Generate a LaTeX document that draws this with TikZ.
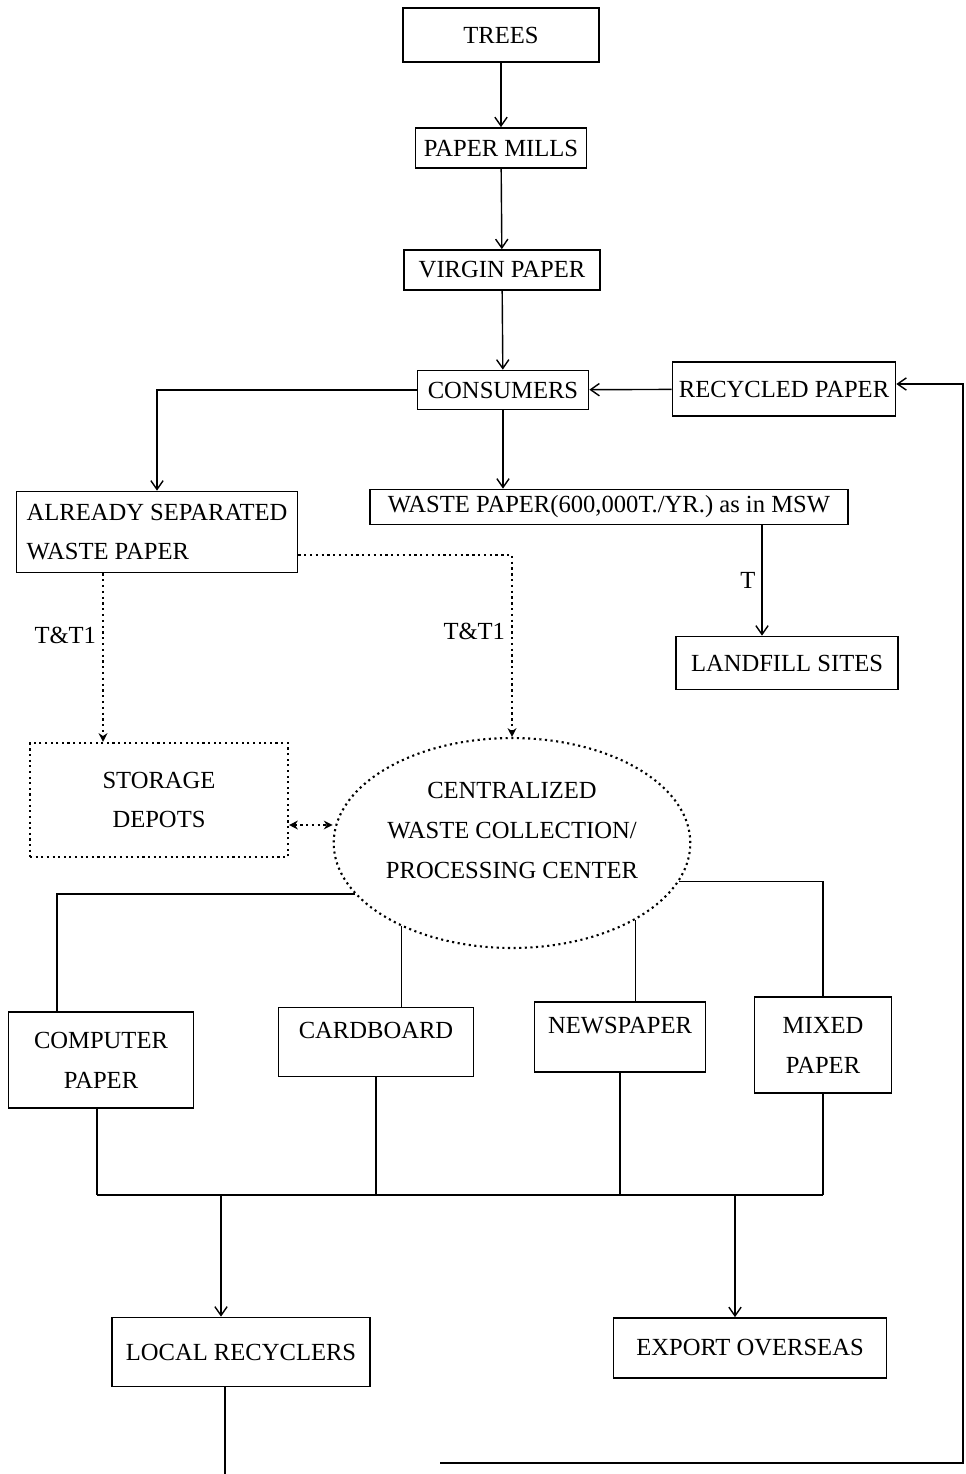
\documentclass[tikz,border=0pt]{standalone}
\usepackage{fontspec}
\setmainfont{Liberation Serif}
\usetikzlibrary{arrows.meta, calc, positioning, shapes.geometric}

\tikzset{
    box/.style={draw, line width=1pt, align=center, inner sep=2pt, font=\fontsize{14}{22.7}\selectfont},
    dotbox/.style={box, line width=1.2pt, dotted},
    flow/.style={line width=0.8pt, -{Straight Barb[length=5pt,width=7pt]}},
    link/.style={line width=0.8pt},
    dotflow/.style={line width=1.3pt, dotted, -{Stealth[length=5pt,width=5pt]}},
    lbl/.style={font=\fontsize{14}{17}\selectfont},
}

\begin{document}
\begin{tikzpicture}[x=0.02cm, y=-0.02cm]
    \useasboundingbox (0,0) rectangle (966,1474);

    % Supply chain
    \node[box, minimum width=3.92cm, minimum height=1.08cm] (trees) at (501,35) {TREES};
    \node[box, minimum width=3.42cm, minimum height=0.8cm] (mills) at (501,148) {PAPER MILLS};
    \node[box, minimum width=3.92cm, minimum height=0.8cm] (virgin) at (502,270) {VIRGIN PAPER};
    \node[box, minimum width=3.42cm, minimum height=0.78cm] (consumers) at (503,390) {CONSUMERS};
    \node[box, minimum width=4.46cm, minimum height=1.08cm] (recycled) at (784,389) {RECYCLED PAPER};

    \draw[flow] (trees) -- (mills);
    \draw[flow] (mills) -- (virgin);
    \draw[flow] (virgin) -- (consumers);
    \draw[flow] (recycled) -- (consumers);

    % Waste streams
    \node[box, align=left, minimum width=5.62cm, minimum height=1.62cm] (separated) at (157,532) {ALREADY SEPARATED\\WASTE PAPER};
    \node[box, minimum width=9.56cm, minimum height=0.7cm] (waste) at (609,507) {WASTE PAPER(600,000T./YR.) as in MSW};
    \node[box, minimum width=4.44cm, minimum height=1.06cm] (landfill) at (787,663) {LANDFILL SITES};

    \draw[flow] (consumers.west) -| (separated.north);
    \draw[flow] (consumers.south) -- (consumers.south |- waste.north);
    \draw[flow] ([xshift=-5mm]landfill.north |- waste.south) -- ([xshift=-5mm]landfill.north)
        node[lbl, midway, left] {T};

    % Collection
    \node[dotbox, minimum width=5.16cm, minimum height=2.28cm] (storage) at (159,800) {STORAGE\\DEPOTS};
    \node[dotbox, ellipse, inner sep=0pt, minimum width=7.04cm, minimum height=4.2cm] (central) at (512,843)
        {CENTRALIZED\\WASTE COLLECTION/\\PROCESSING CENTER\\[-8pt]\mbox{}};

    \draw[dotflow] ([xshift=-10.8mm]separated.south) -- ([xshift=-10.8mm]separated.south |- storage.north)
        node[lbl, pos=0.37, left] {T\&T1};
    \draw[dotflow] ([yshift=-4.6mm]separated.east) -| (central.north)
        node[lbl, pos=0.71, left] {T\&T1};
    \draw[dotflow, {Stealth[length=5pt,width=5pt]}-{Stealth[length=5pt,width=5pt]}]
        ([yshift=-5mm]storage.east) -- ([yshift=-5mm]storage.east -| central.west);

    % Sorted grades
    \node[box, minimum width=3.7cm, minimum height=1.92cm] (computer) at (101,1060) {COMPUTER\\PAPER};
    \node[box, minimum width=3.9cm, minimum height=1.38cm] (cardboard) at (376,1042) {CARDBOARD\\[-9pt]\mbox{}};
    \node[box, minimum width=3.42cm, minimum height=1.4cm] (newspaper) at (620,1037) {NEWSPAPER\\[-9pt]\mbox{}};
    \node[box, minimum width=2.74cm, minimum height=1.92cm] (mixed) at (823,1045) {MIXED\\PAPER};

    \draw[link] (central.198) -| ([xshift=-8.8mm]computer.north);
    \draw[link] (central.217) -- (central.217 |- cardboard.north);
    \draw[link] (central.328) -- (central.328 |- newspaper.north);
    \draw[link] (central.347) -| (mixed.north);

    % Outlets
    \coordinate (bus) at (97,1195);
    \draw[link] ([xshift=-0.8mm]computer.south) -- ([xshift=-0.8mm]computer.south |- bus);
    \draw[link] (cardboard.south) -- (cardboard.south |- bus);
    \draw[link] (newspaper.south) -- (newspaper.south |- bus);
    \draw[link] (mixed.south) -- (mixed.south |- bus);
    \draw[link] ([xshift=-0.8mm]computer.south |- bus) -- (mixed.south |- bus);

    \node[box, minimum width=5.16cm, minimum height=1.38cm] (local) at (241,1352) {LOCAL RECYCLERS};
    \node[box, minimum width=5.46cm, minimum height=1.2cm] (export) at (750,1348) {EXPORT OVERSEAS};

    \draw[flow] ([xshift=-4mm]local.north |- bus) -- ([xshift=-4mm]local.north);
    \draw[flow] ([xshift=-3mm]export.north |- bus) -- ([xshift=-3mm]export.north);

    % Loop back to recycled paper
    \coordinate (pagebottom) at (0,1474);
    \coordinate (loopstart) at (440,1463);
    \coordinate (loopcorner) at (963,1463);
    \draw[link] ([xshift=-3.2mm]local.south) -- ([xshift=-3.2mm]local.south |- pagebottom);
    \draw[flow] (loopstart) -- (loopcorner) |- ([yshift=1mm]recycled.east);
\end{tikzpicture}
\end{document}
